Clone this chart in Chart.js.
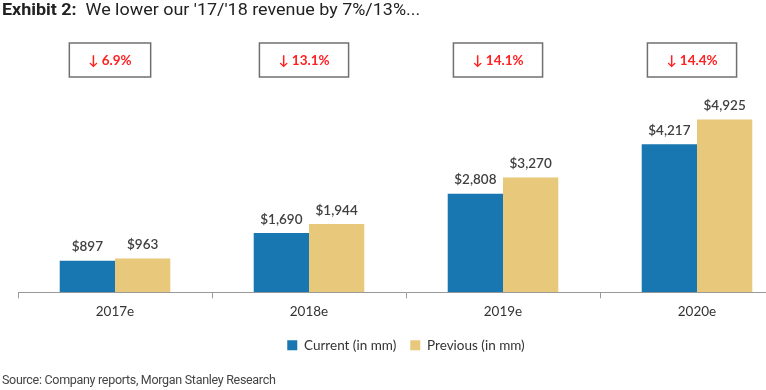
<!DOCTYPE html>
<html>
<head>
<meta charset="utf-8">
<script src="https://cdn.jsdelivr.net/npm/chart.js@4"></script>
<style>
  html, body { margin: 0; padding: 0; background: #fff; overflow: hidden; }
  #wrap { position: relative; width: 766px; height: 390px; overflow: hidden; }
  #titulo { position: absolute; left: 2px; top: 0px; font-family: Roboto, sans-serif; font-size: 16px; color: #222; white-space: nowrap; transform: scaleX(1.12); transform-origin: left top; }
  #titulo b { font-weight: 700; }
  #fonte { position: absolute; left: 2px; top: 372px; font-family: Roboto, sans-serif; font-size: 12.5px; color: #444; letter-spacing: -0.3px; white-space: nowrap; }
  #grafico { position: absolute; left: 0; top: 0; }
</style>
</head>
<body>
<div id="wrap">
  <canvas id="grafico" width="800" height="390"></canvas>
  <div id="titulo"><b>Exhibit 2:</b>&nbsp; We lower our '17/'18 revenue by 7%/13%...</div>
  <div id="fonte">Source: Company reports, Morgan Stanley Research</div>
</div>
<script>
const anos = ["2017e", "2018e", "2019e", "2020e"];
const atual = [897, 1690, 2808, 4217];
const anterior = [963, 1944, 3270, 4925];
const quedas = ["6.9%", "13.1%", "14.1%", "14.4%"];

const fonteBase = "Lato, 'Open Sans', sans-serif";

// rótulos "$x" em cima das barras
const rotulosBarras = {
  id: "rotulosBarras",
  afterDatasetsDraw(chart) {
    const ctx = chart.ctx;
    ctx.save();
    ctx.font = "600 13.5px " + fonteBase;
    ctx.fillStyle = "#404040";
    ctx.textAlign = "center";
    ctx.textBaseline = "bottom";
    chart.data.datasets.forEach((ds, i) => {
      chart.getDatasetMeta(i).data.forEach((bar, j) => {
        ctx.fillText("$" + ds.data[j].toLocaleString("en-US"), bar.x, bar.y - 7);
      });
    });
    ctx.restore();
  }
};

// caixinhas com a queda percentual
const caixasQueda = {
  id: "caixasQueda",
  afterDraw(chart) {
    const ctx = chart.ctx;
    const x = chart.scales.x;
    ctx.save();
    ctx.font = "bold 13.5px " + fonteBase;
    quedas.forEach((q, i) => {
      const txt = "\u2193 " + q;
      const w = ctx.measureText(txt).width + 38;
      const cx = x.getPixelForValue(i) - 5;
      const top = 43, h = 34;
      ctx.fillStyle = "#fff";
      ctx.fillRect(cx - w / 2, top, w, h);
      ctx.strokeStyle = "#707070";
      ctx.lineWidth = 1.5;
      ctx.strokeRect(cx - w / 2, top, w, h);
      ctx.fillStyle = "#ff2020";
      ctx.textAlign = "center";
      ctx.textBaseline = "middle";
      ctx.fillText(txt, cx, top + h / 2 + 1);
    });
    ctx.restore();
  }
};

new Chart(document.getElementById("grafico"), {
  type: "bar",
  data: {
    labels: anos,
    datasets: [
      { label: "Current (in mm)", data: atual, backgroundColor: "#1877b0" },
      { label: "Previous (in mm)", data: anterior, backgroundColor: "#e8c87b" }
    ]
  },
  options: {
    responsive: false,
    animation: false,
    layout: { padding: { left: 18, right: 6, top: 36, bottom: 28 } },
    datasets: { bar: { barPercentage: 1, categoryPercentage: 0.57 } },
    scales: {
      x: {
        grid: { display: true, drawOnChartArea: false, drawTicks: true, tickLength: 6, color: "#999", offset: true },
        border: { color: "#999" },
        ticks: { color: "#333", font: { family: fonteBase, size: 13.5 }, padding: 5 }
      },
      y: { display: false, min: 0, max: 7300 }
    },
    plugins: {
      legend: {
        position: "bottom",
        labels: { boxWidth: 10, boxHeight: 10, padding: 14, color: "#333", font: { family: fonteBase, size: 13.5 } }
      },
      tooltip: { enabled: false }
    }
  },
  plugins: [rotulosBarras, caixasQueda]
});
</script>
</body>
</html>
